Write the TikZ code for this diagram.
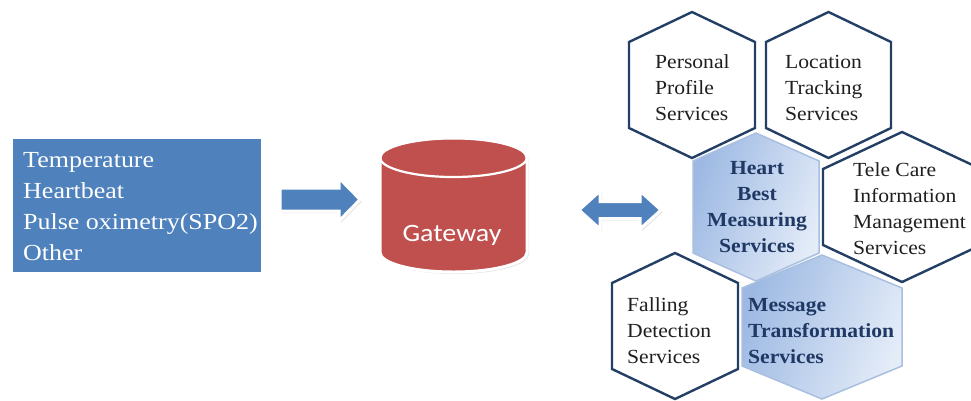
\documentclass[tikz,border=0pt]{standalone}
\usepackage{fontspec}
\setmainfont{Liberation Serif}
\newfontfamily\boxfont[FakeStretch=1.13]{Liberation Serif}
\newfontfamily\hexfont[FakeStretch=1.08]{Liberation Serif}
\newfontfamily\gwfont[FakeStretch=1.12]{Carlito}
\usetikzlibrary{shadows}
\definecolor{boxblue}{HTML}{4F81BD}
\definecolor{gwred}{HTML}{C0504D}
\definecolor{hexline}{HTML}{243F66}
\definecolor{hexnavy}{HTML}{1F3864}
\definecolor{hexdark}{HTML}{9DB9E3}
\definecolor{hexlight}{HTML}{E4ECF8}
\definecolor{hexedge}{HTML}{A9BFE0}
\newcommand{\hexshape}[6]{\path[#1] (#2,#3-#5) -- (#2+#4,#3-#5+#6) -- (#2+#4,#3+#5-#6) -- (#2,#3+#5) -- (#2-#4,#3+#5-#6) -- (#2-#4,#3-#5+#6) -- cycle;}
\begin{document}
\begin{tikzpicture}[x=1pt,y=-1pt,
  soft/.style={drop shadow={opacity=0.18, shadow xshift=2pt, shadow yshift=-2pt}},
  sensorbox/.style={fill=boxblue, draw=white, line width=4pt, soft, inner sep=0pt},
  blockarrow/.style={fill=boxblue, draw=white, line width=3pt, line join=miter, soft},
  plainhex/.style={fill=white, draw=hexline, line width=2.4pt, line join=miter},
  shadedhex/.style={left color=hexdark, right color=hexlight, shading angle=70, draw=hexedge, line width=1.5pt, line join=miter},
  hextext/.style={font=\hexfont\fontsize{20}{26}\selectfont, text=black!88, inner sep=0pt, align=left, anchor=west},
  hexbold/.style={font=\hexfont\fontsize{20}{26}\selectfont\bfseries, text=hexnavy, inner sep=0pt},
  boxtext/.style={font=\boxfont\fontsize{23}{31}\selectfont, text=white, inner sep=0pt, align=left, anchor=west},
  gwtext/.style={font=\gwfont\fontsize{25}{30}\selectfont, text=white, inner sep=0pt}
]
\useasboundingbox (0,0) rectangle (971,400);
\fill[white] (0,0) rectangle (971,400);

% sensor box
\node[sensorbox, minimum width=252pt, minimum height=137pt] (sensors) at (137,205.5) {};
\node[boxtext] (sensortext) at (23,206.5) {Temperature\\Heartbeat\\Pulse oximetry(SPO2)\\Other};

% arrow 1
\path[blockarrow] (280,188) -- (339,188) -- (339,178) -- (360,199.5) -- (339,221) -- (339,211) -- (280,211) -- cycle;

% gateway cylinder
\path[fill=gwred, draw=white, line width=3pt, soft]
  (380,157.5) -- (380,252.5) arc[start angle=180, end angle=0, x radius=73.5, y radius=19.5]
  -- (527,157.5) arc[start angle=0, end angle=-180, x radius=73.5, y radius=19.5] -- cycle;
\draw[white, line width=2.2pt] (453.5,157.5) ellipse[x radius=73.5, y radius=19.5];
\node[gwtext] (gateway) at (452,235.5) {Gateway};

% double arrow
\path[blockarrow] (579,210) -- (600,191) -- (600,201.5) -- (640,201.5) -- (640,191) -- (661,210)
  -- (640,229) -- (640,218.5) -- (600,218.5) -- (600,229) -- cycle;

% hexagons
\hexshape{plainhex}{692}{85}{63}{73}{30}
\hexshape{plainhex}{828.5}{85}{62.5}{73}{30}
\hexshape{shadedhex}{756}{207}{63}{74}{28}
\hexshape{plainhex}{902}{207}{79}{75}{37}
\hexshape{plainhex}{675}{326}{63}{73}{30}
\hexshape{shadedhex}{822}{327}{80}{72}{33}

\node[hextext] (personal) at (655,87.5) {Personal\\Profile\\Services};
\node[hextext] (location) at (785,87.5) {Location\\Tracking\\Services};
\node[hexbold, align=center] (heart) at (757,207.5) {Heart\\Best\\Measuring\\Services};
\node[hextext] (telecare) at (853,208.5) {Tele Care\\Information\\Management\\Services};
\node[hextext] (falling) at (627,331) {Falling\\Detection\\Services};
\node[hexbold, align=left, anchor=west] (message) at (748,331) {Message\\Transformation\\Services};
\end{tikzpicture}
\end{document}
